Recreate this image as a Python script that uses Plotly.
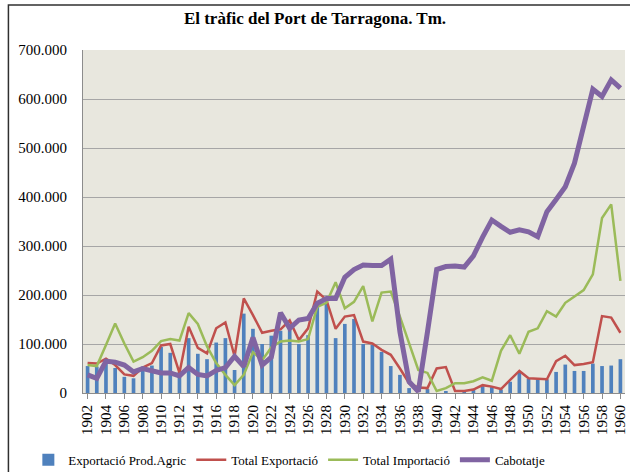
import plotly.graph_objects as go

years = [str(y) for y in range(1902, 1961)]

export_agric = [55000, 54000, 67000, 51000, 33000, 30000, 54000, 56000, 94000, 82000,
                43000, 112000, 80000, 69000, 103000, 112000, 47000, 162000, 131000, 100000,
                117000, 127000, 133000, 100000, 118000, 188000, 183000, 112000, 141000, 151000,
                100000, 98000, 84000, 55000, 37000, 10000, 0, 8000, 0, 3000,
                0, 1000, 8000, 14000, 12000, 7000, 23000, 41000, 29000, 28000,
                28000, 43000, 58000, 45000, 45000, 60000, 55000, 56000, 69000]

total_export = [61000, 60000, 70000, 57000, 38000, 35000, 52000, 61000, 97000, 100000,
                41000, 135000, 92000, 81000, 132000, 144000, 75000, 193000, 159000, 123000,
                127000, 130000, 148000, 108000, 132000, 207000, 190000, 131000, 156000, 159000,
                105000, 101000, 88000, 78000, 50000, 20000, 11000, 10000, 50000, 53000,
                4000, 4000, 7000, 16000, 13000, 8000, 27000, 45000, 30000, 29000,
                28000, 65000, 76000, 57000, 59000, 63000, 157000, 154000, 123000]

total_import = [57000, 55000, 98000, 142000, 101000, 64000, 73000, 86000, 106000, 110000,
                107000, 163000, 141000, 95000, 61000, 37000, 16000, 37000, 83000, 67000,
                93000, 105000, 107000, 105000, 110000, 176000, 184000, 226000, 173000, 186000,
                218000, 146000, 205000, 207000, 156000, 101000, 47000, 41000, 4000, 10000,
                20000, 20000, 24000, 32000, 25000, 86000, 118000, 80000, 125000, 132000,
                167000, 156000, 184000, 197000, 210000, 242000, 357000, 385000, 229000]

cabotatje = [37000, 30000, 65000, 63000, 57000, 43000, 50000, 46000, 41000, 41000,
             35000, 52000, 38000, 35000, 46000, 52000, 75000, 54000, 113000, 57000,
             73000, 164000, 132000, 149000, 152000, 183000, 193000, 193000, 236000, 252000,
             261000, 260000, 260000, 273000, 125000, 23000, 3000, 125000, 252000, 258000,
             259000, 257000, 280000, 318000, 353000, 340000, 328000, 333000, 329000, 319000,
             370000, 395000, 421000, 469000, 543000, 620000, 605000, 639000, 622000]

tick_years = [str(y) for y in range(1902, 1961, 2)]
y_ticks = [0, 100000, 200000, 300000, 400000, 500000, 600000, 700000]

serif = "Liberation Serif"

fig = go.Figure()
fig.add_trace(go.Bar(x=years, y=export_agric, name="Exportació Prod.Agric",
                     marker=dict(color="#4F81BD", line=dict(width=0))))
fig.add_trace(go.Scatter(x=years, y=total_export, name="Total Exportació", mode="lines",
                         line=dict(color="#C0504D", width=2.5)))
fig.add_trace(go.Scatter(x=years, y=total_import, name="Total Importació", mode="lines",
                         line=dict(color="#9BBB59", width=2.5)))
fig.add_trace(go.Scatter(x=years, y=cabotatje, name="Cabotatje", mode="lines",
                         line=dict(color="#8064A2", width=5)))

fig.update_layout(
    width=630, height=472,
    margin=dict(l=83, r=2, t=50, b=79),
    paper_bgcolor="white",
    plot_bgcolor="#E8E7DE",
    separators=",.",
    bargap=0.6,
    font=dict(family=serif, size=14, color="#000000"),
    title=dict(text="<b>El tràfic del Port de Tarragona. Tm.</b>", x=0.5, xref="container",
               xanchor="center", y=0.962, yanchor="middle",
               font=dict(family=serif, size=17, color="#000000")),
    legend=dict(orientation="h", xref="container", yref="container",
                x=0.045, xanchor="left", y=0.026, yanchor="middle",
                font=dict(family=serif, size=13), bgcolor="rgba(0,0,0,0)",
                itemwidth=30, tracegroupgap=0),
    showlegend=True,
    shapes=[dict(type="rect", xref="paper", yref="paper", x0=-0.1376, x1=1.2,
                 y0=-0.6, y1=1.131, line=dict(color="#303030", width=1.5),
                 fillcolor="rgba(0,0,0,0)", layer="below")],
)
fig.update_xaxes(type="category", tickmode="array", tickvals=tick_years, ticktext=tick_years,
                 tickangle=-90, showgrid=False, showline=True, linecolor="#8C8C8C",
                 linewidth=1, ticks="outside", ticklen=5, tickcolor="#8C8C8C",
                 tickfont=dict(family=serif, size=15))
fig.update_yaxes(range=[0, 700000], tickmode="array", tickvals=y_ticks, tickformat=",.0f",
                 showgrid=True, gridcolor="#A6A6A6", gridwidth=1, showline=True,
                 linecolor="#8C8C8C", linewidth=1, zeroline=False,
                 tickfont=dict(family=serif, size=15), ticks="", ticklabelstandoff=12)

fig.write_html("out.html", config={"displayModeBar": False},
               post_script="document.body.style.margin='0px';")
